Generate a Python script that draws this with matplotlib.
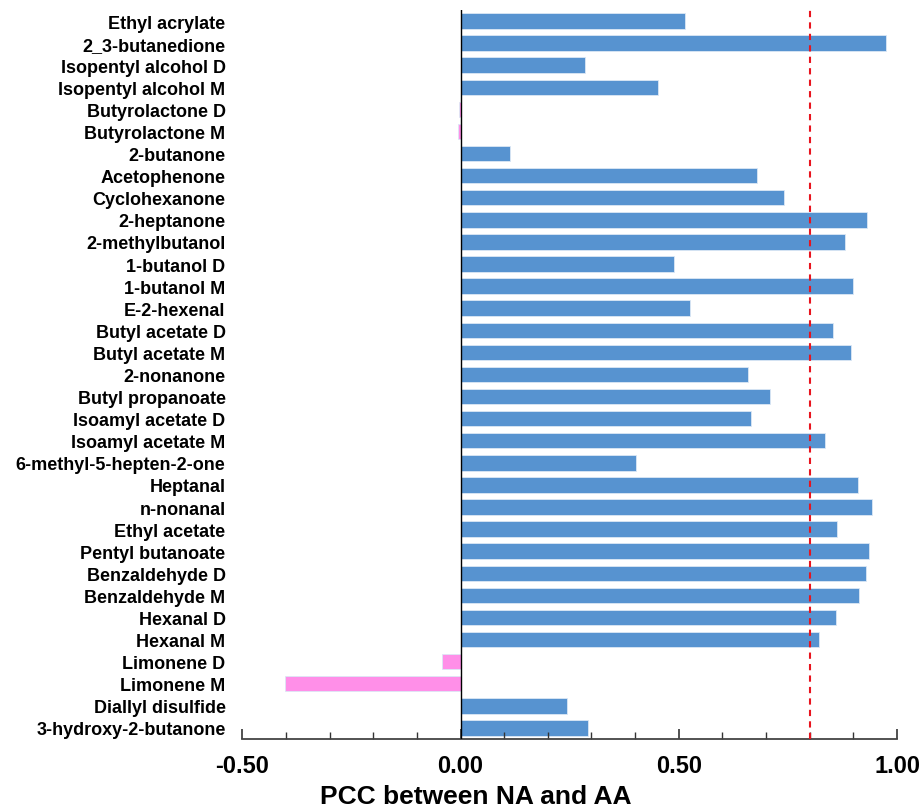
import matplotlib.pyplot as plt
import numpy as np
from matplotlib.ticker import MultipleLocator, FormatStrFormatter

# compounds, top to bottom
compounds = [
    "Ethyl acrylate", "2_3-butanedione", "Isopentyl alcohol D", "Isopentyl alcohol M",
    "Butyrolactone D", "Butyrolactone M", "2-butanone", "Acetophenone", "Cyclohexanone",
    "2-heptanone", "2-methylbutanol", "1-butanol D", "1-butanol M", "E-2-hexenal",
    "Butyl acetate D", "Butyl acetate M", "2-nonanone", "Butyl propanoate",
    "Isoamyl acetate D", "Isoamyl acetate M", "6-methyl-5-hepten-2-one", "Heptanal",
    "n-nonanal", "Ethyl acetate", "Pentyl butanoate", "Benzaldehyde D", "Benzaldehyde M",
    "Hexanal D", "Hexanal M", "Limonene D", "Limonene M", "Diallyl disulfide",
    "3-hydroxy-2-butanone",
]
pcc = [
    0.515, 0.974, 0.285, 0.453,
    -0.003, -0.005, 0.114, 0.680, 0.741,
    0.932, 0.880, 0.488, 0.899, 0.526,
    0.854, 0.894, 0.658, 0.708,
    0.665, 0.834, 0.403, 0.911,
    0.943, 0.863, 0.935, 0.930, 0.912,
    0.861, 0.821, -0.043, -0.401, 0.243,
    0.291,
]
threshold = 0.8

plt.rcParams.update({
    "font.family": ["Liberation Sans", "DejaVu Sans"],
    "font.weight": "bold",
})

fig = plt.figure(figsize=(9.21, 8.12), dpi=100)
ax = fig.add_axes([0.263, 0.0887, 0.711, 0.8978])

y = np.arange(len(compounds))
vals = np.array(pcc)
colors = np.where(vals < 0, "#FF8FE8", "#5793D0")
ax.barh(y, vals, height=0.7, color=colors, edgecolor="#DCE8F5", linewidth=0.6)

ax.axvline(0, color="black", linewidth=1.0, zorder=3)
ax.axvline(threshold, color="#E8141E", linestyle=(0, (3, 2.5)), linewidth=1.5, zorder=4)

ax.set_ylim(len(compounds) - 0.5, -0.5)
ax.set_xlim(-0.5, 1.0)
ax.set_yticks(y)
ax.set_yticklabels(compounds, fontsize=13, fontweight="bold")
ax.tick_params(axis="y", length=0, pad=12)

ax.xaxis.set_major_locator(MultipleLocator(0.5))
ax.xaxis.set_minor_locator(MultipleLocator(0.1))
ax.xaxis.set_major_formatter(FormatStrFormatter("%.2f"))
ax.tick_params(axis="x", which="major", direction="in", length=7, width=1.2,
               labelsize=17, pad=11, color="#333333")
ax.tick_params(axis="x", which="minor", direction="in", length=5, width=1.0,
               color="#333333")
for lab in ax.get_xticklabels():
    lab.set_fontweight("bold")

for s in ["top", "right", "left"]:
    ax.spines[s].set_visible(False)
ax.spines["bottom"].set_color("#444444")
ax.spines["bottom"].set_linewidth(1.3)

ax.set_xlabel("PCC between NA and AA", fontsize=19, fontweight="bold")
ax.xaxis.set_label_coords(0.357, -0.062)

fig.savefig("out.png", dpi=100)
